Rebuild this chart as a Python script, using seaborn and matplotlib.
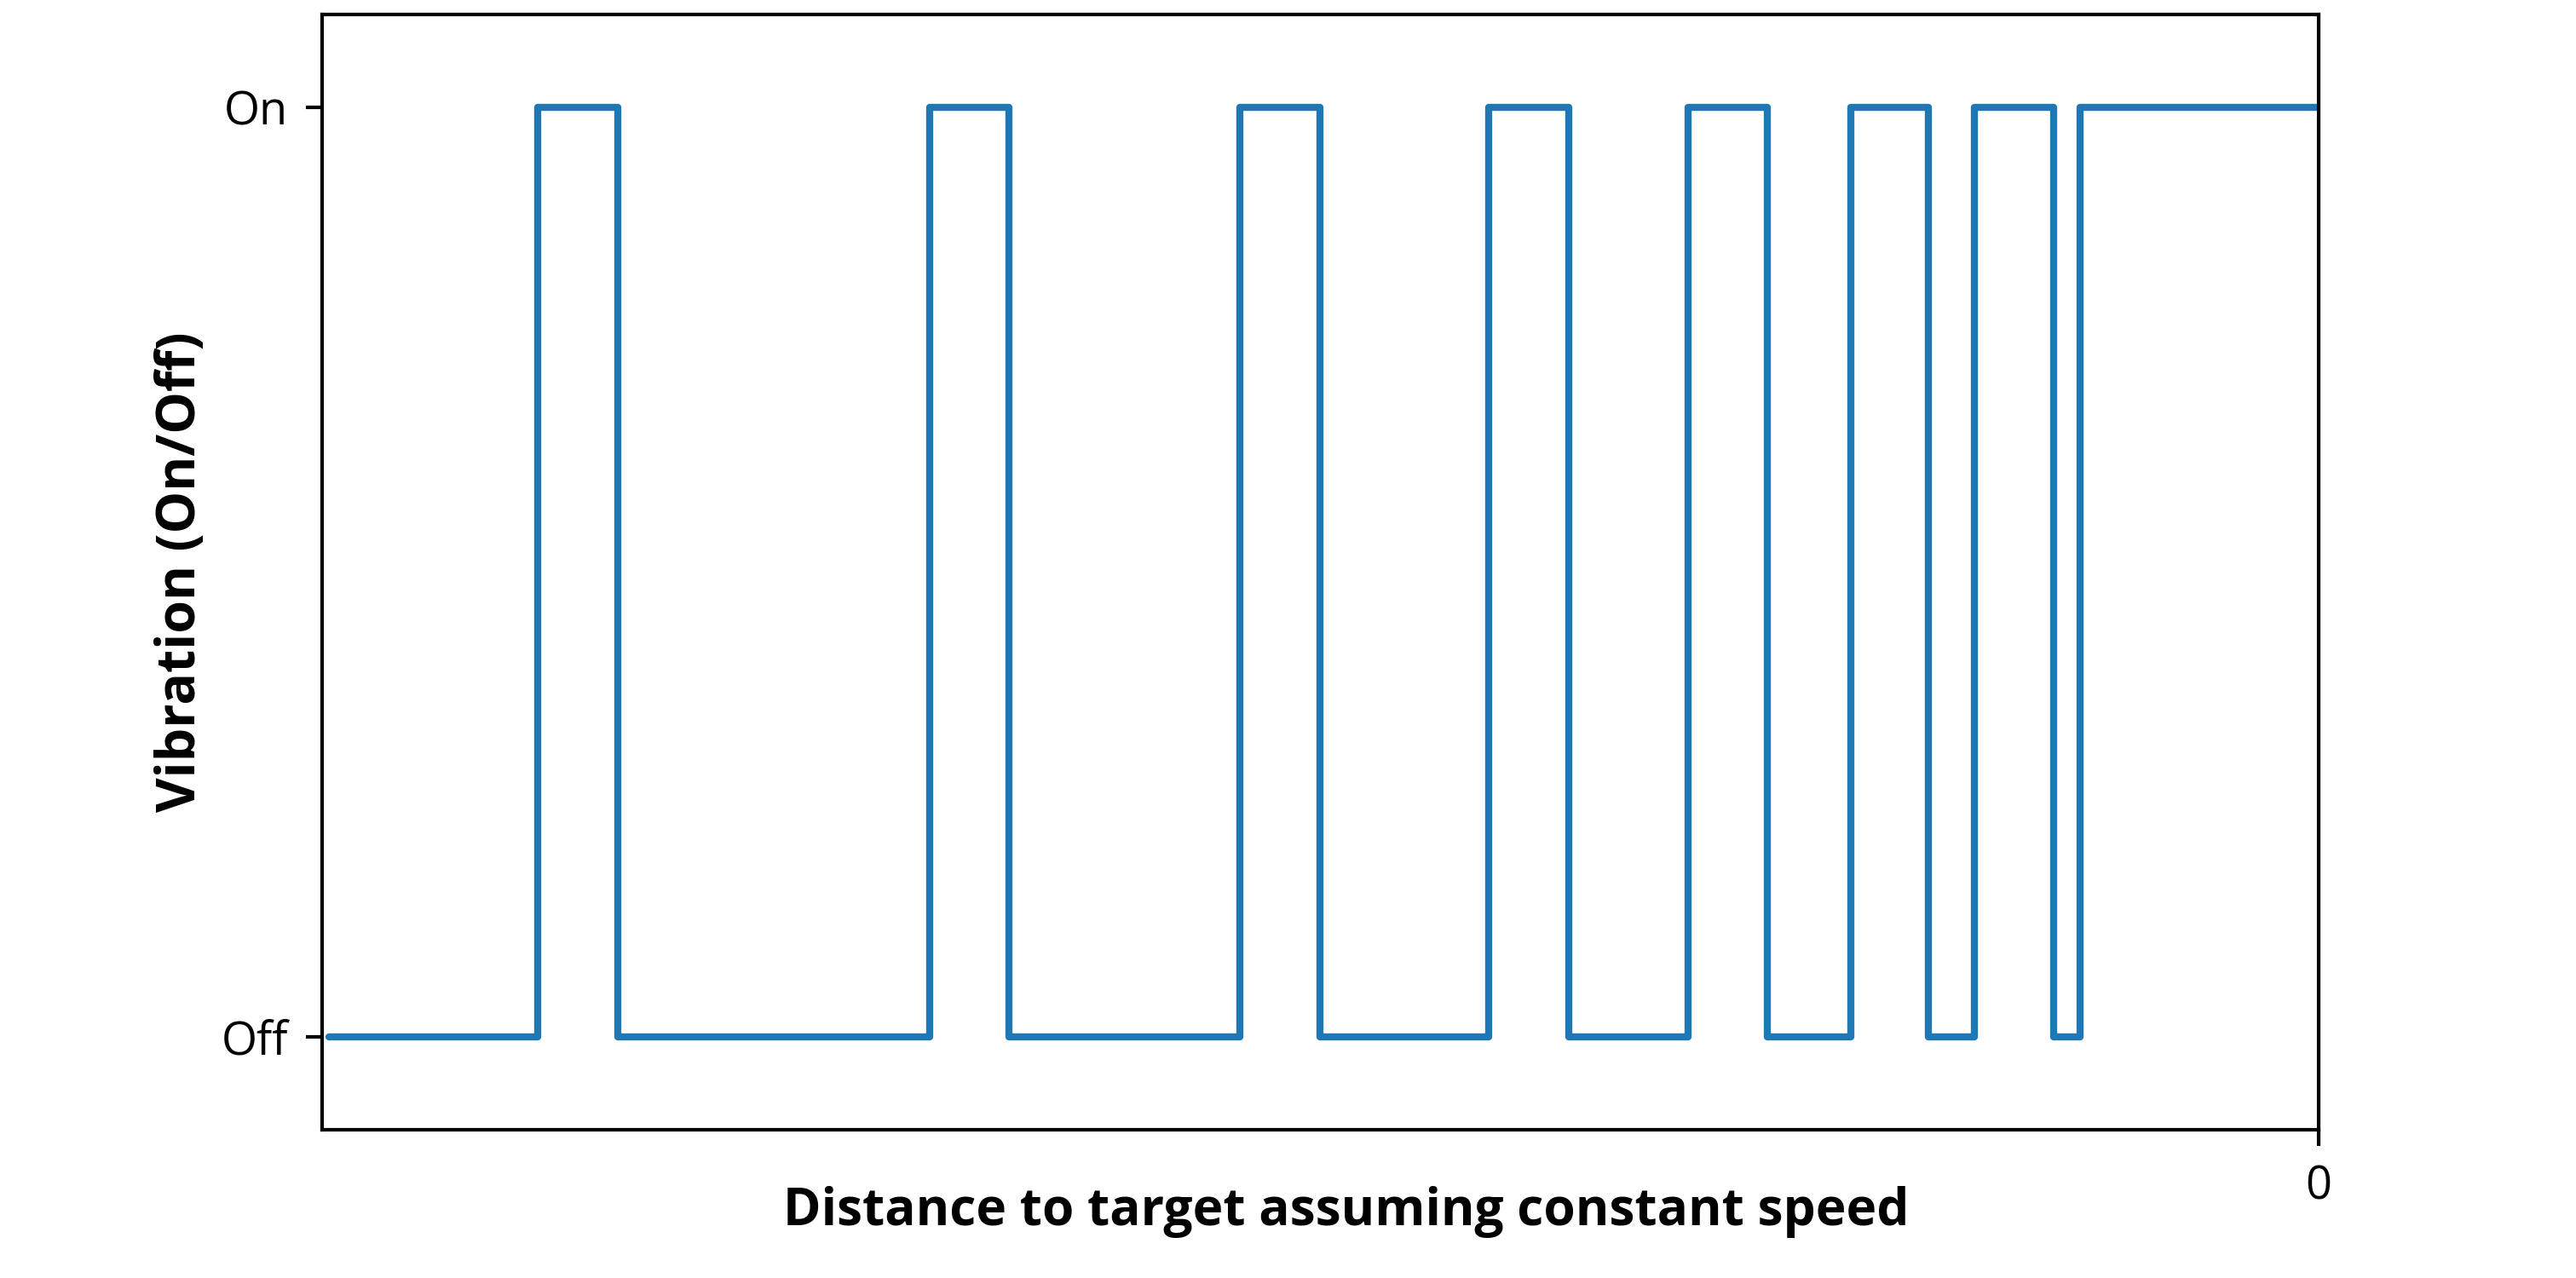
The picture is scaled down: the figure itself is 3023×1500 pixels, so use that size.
import numpy as np
import pandas as pd
import matplotlib
matplotlib.use('Agg')
import matplotlib.pyplot as plt
import seaborn as sns

# switch points (distance to target, arbitrary units) and state after each switch
distance = [100.0, 89.5, 85.5, 69.8, 65.8, 54.2, 50.2, 41.7, 37.7,
            31.7, 27.7, 23.5, 19.6, 17.3, 13.3, 12.0, 0.0]
state = [0, 1, 0, 1, 0, 1, 0, 1, 0, 1, 0, 1, 0, 1, 0, 1, 1]
ytick_labels = ['Off', 'On']

df = pd.DataFrame({'x': [-d for d in distance], 'state': state})

sns.set_style('white')
plt.rcParams['font.family'] = ['Open Sans', 'DejaVu Sans']
plt.rcParams['text.color'] = 'black'
plt.rcParams['axes.labelcolor'] = 'black'

fig = plt.figure(figsize=(3023 / 300, 5), dpi=300)
ax = fig.add_axes([0.125, 0.116, 0.775, 0.873])

sns.lineplot(data=df, x='x', y='state', drawstyle='steps-post',
             color='#1f77b4', linewidth=2.0, ax=ax)

ax.set_xlim(-100.35, 0)
ax.set_ylim(-0.1, 1.1)
ax.set_xticks([0])
ax.set_xticklabels(['0'])
ax.set_yticks([0, 1])
ax.set_yticklabels(ytick_labels)

for s in ax.spines.values():
    s.set_visible(True)
    s.set_color('black')
    s.set_linewidth(1.0)

ax.tick_params(axis='both', which='major', direction='out', length=4.5,
               width=1.0, color='black', labelsize=13, bottom=True, left=True,
               labelcolor='black', pad=5)

ax.set_xlabel('Distance to target assuming constant speed', fontsize=14.5,
              fontweight='bold', va='baseline', color='black')
ax.xaxis.set_label_coords(0.513, -0.0855)
ax.set_ylabel('Vibration (On/Off)', fontsize=15, fontweight='bold', va='center',
              color='black')
ax.yaxis.set_label_coords(-0.0705, 0.5)

fig.savefig('out.png', dpi=300)
